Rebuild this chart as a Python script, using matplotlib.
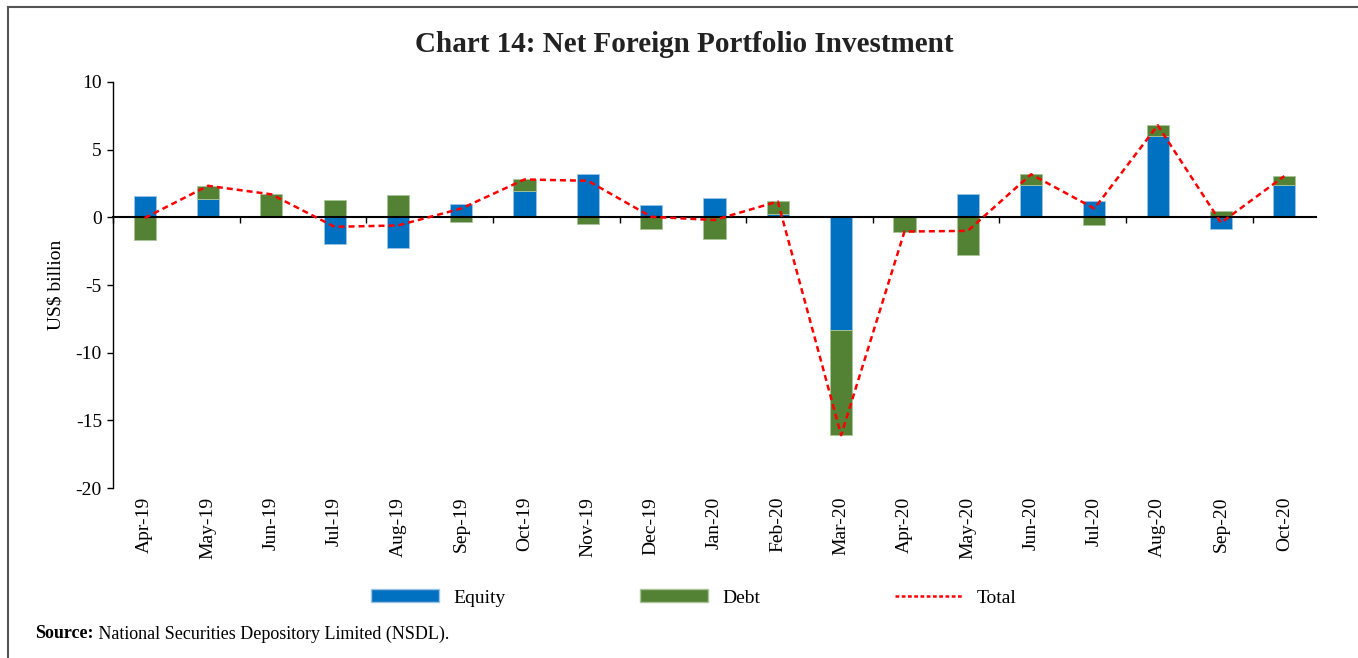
import numpy as np
import matplotlib
matplotlib.use("Agg")
import matplotlib.pyplot as plt
from matplotlib.lines import Line2D
from matplotlib.patches import Patch
import matplotlib.transforms as mtransforms

plt.rcParams['font.family'] = ['Liberation Serif', 'DejaVu Serif']
plt.rcParams['axes.unicode_minus'] = False

# Data (US$ billion)
months = ['Apr-19', 'May-19', 'Jun-19', 'Jul-19', 'Aug-19', 'Sep-19', 'Oct-19',
          'Nov-19', 'Dec-19', 'Jan-20', 'Feb-20', 'Mar-20', 'Apr-20', 'May-20',
          'Jun-20', 'Jul-20', 'Aug-20', 'Sep-20', 'Oct-20']
equity = [1.6, 1.33, 0.05, -2.0, -2.25, 1.0, 1.95, 3.2, 0.9, 1.4, 0.27, -8.35,
          0.05, 1.75, 2.36, 1.2, 6.0, -0.85, 2.4]
debt = [-1.65, 1.0, 1.65, 1.3, 1.65, -0.35, 0.85, -0.5, -0.85, -1.6, 0.9, -7.75,
        -1.1, -2.75, 0.82, -0.55, 0.8, 0.45, 0.65]
total = [-0.05, 2.33, 1.7, -0.7, -0.6, 0.65, 2.8, 2.7, 0.04, -0.2, 1.17, -16.1,
         -1.05, -1.0, 3.18, 0.65, 6.8, -0.4, 3.05]

blue = '#0070C0'
green = '#548235'
red = '#FF0000'

x = np.arange(len(months))
eq = np.array(equity)
db = np.array(debt)
# Excel-style stacking: positives stack on positives, negatives on negatives
debt_bottom = np.where(np.sign(db) == np.sign(eq), eq, 0)

fig = plt.figure(figsize=(13.58, 6.58), dpi=100)
ax = fig.add_axes([113 / 1358, 1 - 488 / 658, (1316 - 113) / 1358, (488 - 82) / 658])

ax.bar(x, eq, width=0.35, color=blue, edgecolor='#9DC3E6', linewidth=0.6, zorder=2)
ax.bar(x, db, width=0.35, bottom=debt_bottom, color=green, edgecolor='#A9C49A',
       linewidth=0.6, zorder=2)
ax.plot(x, total, color=red, lw=1.8, linestyle=(0, (2.4, 1.6)), zorder=4)

ax.set_xlim(-0.5, len(months) - 0.5)
ax.set_ylim(-20, 10)
ax.set_yticks(np.arange(-20, 11, 5))
ax.tick_params(axis='y', direction='out', length=4, width=1, labelsize=14, pad=4)

ax.spines['top'].set_visible(False)
ax.spines['right'].set_visible(False)
ax.spines['left'].set_linewidth(1.0)
ax.spines['bottom'].set_position(('data', 0))
ax.spines['bottom'].set_linewidth(1.5)
ax.spines['bottom'].set_zorder(3)
ax.set_xticks(np.arange(-0.5, len(months) - 1, 2))
ax.set_xticklabels([])
ax.tick_params(axis='x', direction='out', length=4, width=1)

# month labels sit below the plot area, not at the zero line
trans = mtransforms.blended_transform_factory(ax.transData, ax.transAxes)
for xi, m in zip(x, months):
    ax.text(xi, -0.022, m, transform=trans, rotation=90, ha='center', va='top',
            fontsize=14)

ax.set_ylabel('US$ billion', fontsize=14, labelpad=8)

fig.text(684 / 1358, 1 - 45 / 658, 'Chart 14: Net Foreign Portfolio Investment',
         ha='center', va='center', fontsize=21, fontweight='bold', color='#222222')

handles = [Patch(facecolor=blue, edgecolor='#9DC3E6'),
           Patch(facecolor=green, edgecolor='#A9C49A'),
           Line2D([], [], color=red, lw=1.8, linestyle=(0, (1.5, 1.0)))]
fig.legend(handles, ['Equity', 'Debt', 'Total'], loc='center',
           bbox_to_anchor=(694 / 1358, 1 - 598 / 658), ncol=3, frameon=False,
           fontsize=14, handlelength=3.5, handleheight=0.6, columnspacing=6.95,
           handletextpad=0.7)

src = fig.text(35 / 1358, 1 - 634 / 658, 'Source:', fontsize=13, fontweight='bold',
               va='center', ha='left')
ax.annotate(' National Securities Depository Limited (NSDL).', xy=(1, 0.5),
            xycoords=src, va='center', ha='left', fontsize=13, annotation_clip=False)

# frame lines (top and left) around the chart
fig.add_artist(Line2D([8 / 1358, 1], [1 - 7 / 658, 1 - 7 / 658], color='#555555', lw=1.5))
fig.add_artist(Line2D([8 / 1358, 8 / 1358], [0, 1 - 7 / 658], color='#555555', lw=1.5))

fig.savefig('out.png', dpi=100)
